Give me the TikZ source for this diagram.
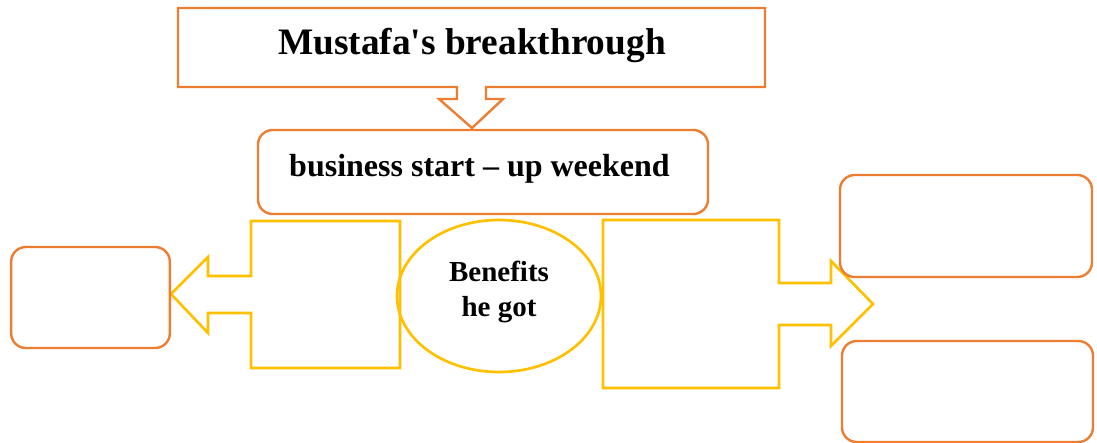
\documentclass[tikz,border=0pt]{standalone}
\usepackage{fontspec}
\setmainfont{Liberation Serif}[Ligatures=TeXOff]
\usetikzlibrary{shapes.geometric}
\definecolor{boxorange}{HTML}{ED7D31}
\definecolor{calloutyellow}{HTML}{FFC000}
\tikzset{
  orangeline/.style={draw=boxorange, line width=1.8pt, line join=miter},
  orangebox/.style={orangeline, rounded corners=11pt, inner sep=0pt},
  yellowline/.style={draw=calloutyellow, line width=2pt, line join=miter},
  bigtext/.style={font=\bfseries\fontsize{28}{34}\selectfont},
  midtext/.style={font=\bfseries\fontsize{24}{29}\selectfont},
  smalltext/.style={font=\bfseries\fontsize{21.75}{26.25}\selectfont, align=center},
}
\begin{document}
\begin{tikzpicture}[x=0.75pt,y=-0.75pt]
    \useasboundingbox (0,0) rectangle (1097,443);
    % title box with its down arrow
    \draw[orangeline] (457,87) -- (178,87) -- (178,8) -- (765,8) -- (765,87) -- (486,87)
        -- (486,99) -- (503,99) -- (472,128) -- (439,99) -- (457,99) -- cycle;
    \node[bigtext, anchor=base] (title) at (472,54) {Mustafa's breakthrough};
    \node[orangebox, minimum width=337.5pt, minimum height=63pt] (startup) at (483,172) {};
    \node[midtext, anchor=base] (startuptext) at (479.5,176) {business start – up weekend};
    % centre
    \node[ellipse, draw=calloutyellow, line width=2pt, minimum width=153pt, minimum height=114pt] (benefits) at (499,296) {};
    \node[smalltext] (benefitstext) at (499,291.5) {Benefits\\he got};
    % left and right callouts
    \draw[yellowline] (400,221) -- (251,221) -- (251,276) -- (208,276) -- (208,257) -- (171,294)
        -- (208,333) -- (208,313) -- (251,313) -- (251,368) -- (400,368) -- cycle;
    \draw[yellowline] (603,220) -- (779,220) -- (779,283) -- (831,283) -- (831,261) -- (873,304)
        -- (831,346) -- (831,325) -- (779,325) -- (779,388) -- (603,388) -- cycle;
    \node[orangebox, minimum width=119pt, minimum height=75.75pt] (leftbox) at (90.5,297.5) {};
    \node[orangebox, minimum width=189pt, minimum height=76.5pt] (rightup) at (966,226) {};
    \node[orangebox, minimum width=188.25pt, minimum height=75.75pt] (rightdown) at (967.5,391.5) {};
\end{tikzpicture}
\end{document}
